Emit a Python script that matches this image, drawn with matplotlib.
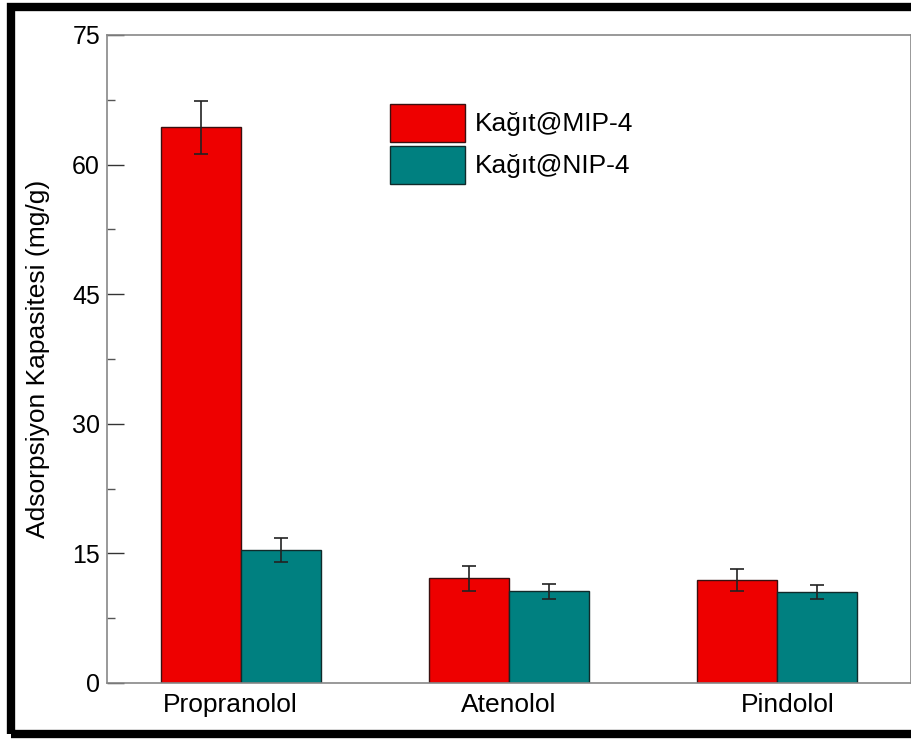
import matplotlib
matplotlib.use("Agg")
import matplotlib.pyplot as plt
import numpy as np
from matplotlib.patches import Rectangle

categories = ["Propranolol", "Atenolol", "Pindolol"]
mip_values = [64.3, 12.1, 11.9]
mip_errors = [3.1, 1.4, 1.25]
nip_values = [15.4, 10.6, 10.5]
nip_errors = [1.4, 0.9, 0.8]
series_labels = ["Kağıt@MIP-4", "Kağıt@NIP-4"]
yticks = [0, 15, 30, 45, 60, 75]

plt.rcParams['font.family'] = ['Liberation Sans', 'DejaVu Sans']

fig = plt.figure(figsize=(9.12, 7.4), dpi=100)
W, H = 912, 740
ax = fig.add_axes([107 / W, 1 - 683 / H, (911 - 107) / W, (683 - 35) / H])

x = np.arange(len(categories))
w = 0.3
ekw = dict(ecolor="#222222", elinewidth=1.2, capthick=1.2)
ax.bar(x - w / 2, mip_values, w, color="#EE0000", edgecolor="#3a1010", linewidth=1.0,
       yerr=mip_errors, capsize=5, error_kw=ekw, label=series_labels[0], zorder=2)
ax.bar(x + w / 2, nip_values, w, color="#008080", edgecolor="#102a2a", linewidth=1.0,
       yerr=nip_errors, capsize=5, error_kw=ekw, label=series_labels[1], zorder=2)

ax.set_xlim(-0.5, 2.5)
ax.set_ylim(0, 75)
ax.set_yticks(yticks)
ax.set_yticks(np.arange(7.5, 75, 15), minor=True)
# category labels in the original are spread slightly wider than the bar groups
ax.set_xticks(x + (x - 1) * 0.04)
ax.set_xticklabels(categories, fontsize=19)
ax.tick_params(axis='x', length=0, pad=7)
ax.tick_params(axis='y', which='major', direction='in', length=12, width=1, color="#333333",
               labelsize=18, pad=5)
ax.tick_params(axis='y', which='minor', direction='in', length=6, width=1, color="#555555")
ax.tick_params(right=False, top=False)
for s in ax.spines.values():
    s.set_color("#888888")
    s.set_linewidth(1.2)

ax.set_ylabel("Adsorpsiyon Kapasitesi (mg/g)", fontsize=19, labelpad=16)

ax.legend(loc="upper left", bbox_to_anchor=(0.352, 0.8935), frameon=False, fontsize=19,
          handlelength=2.84, handleheight=1.837, handletextpad=0.36, labelspacing=0.15,
          borderaxespad=0, borderpad=0)

# thick black border around the figure
fig.patches.append(Rectangle((11 / W, 1 - 734 / H), (940 - 11) / W, (734 - 7) / H,
                             transform=fig.transFigure, fill=False, edgecolor="black",
                             linewidth=6, clip_on=False))

fig.savefig("out.png", dpi=100)
